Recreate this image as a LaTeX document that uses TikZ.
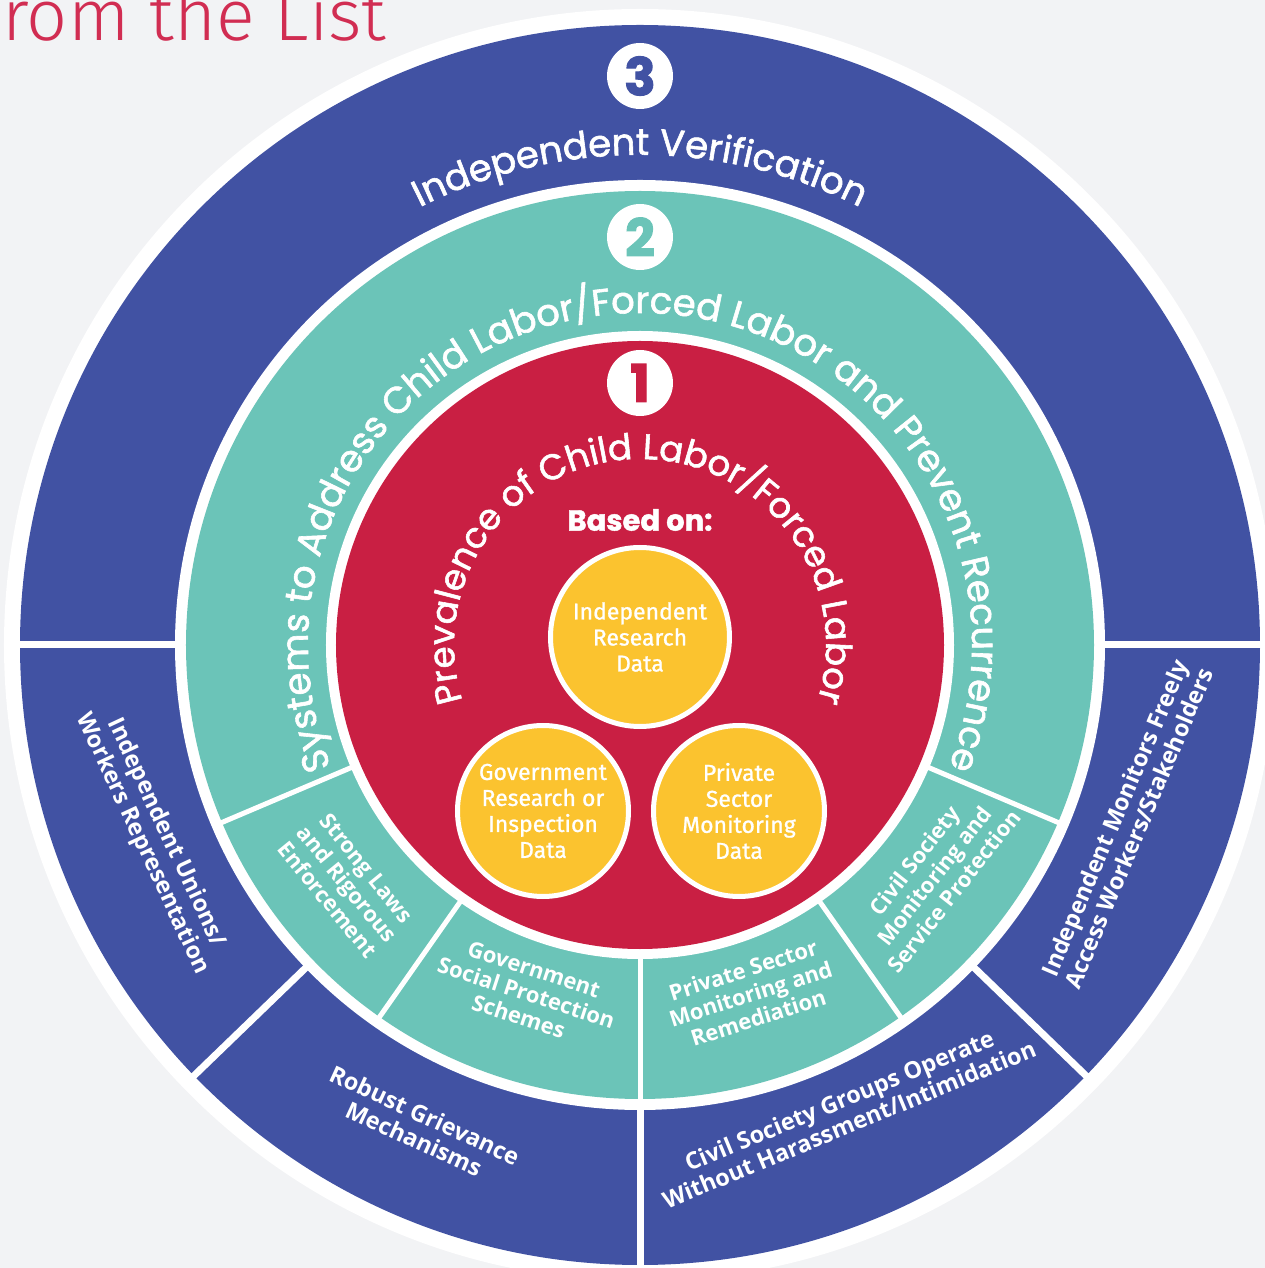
\documentclass[tikz,border=0pt]{standalone}
\usepackage{fontspec}
\usepackage{xcolor}
\usepackage{tikz}
\usetikzlibrary{decorations.text}
\newfontfamily\ringfont{Poppins}[FakeBold=1.6]
\newfontfamily\numfont{Poppins}[FakeBold=2]
\newfontfamily\labelfont{Open Sans}
\newfontfamily\datafont{Fira Sans}[FakeBold=1]
\newfontfamily\titlefont{Fira Sans Light}
\definecolor{ringblue}{HTML}{4152A3}
\definecolor{ringteal}{HTML}{6BC4B8}
\definecolor{ringred}{HTML}{C91F43}
\definecolor{datayellow}{HTML}{FBC32F}
\definecolor{pagebg}{HTML}{F2F3F5}
\definecolor{titlered}{HTML}{D12D52}
\begin{document}
\begin{tikzpicture}[x=1pt,y=1pt]
\tikzstyle{every node}+=[inner sep=0pt]
\tikzstyle{numdisc}=[circle,fill=white,minimum size=66pt,font=\numfont\bfseries\fontsize{52}{52}\selectfont]
\tikzstyle{datadisc}=[circle,fill=datayellow,draw=white,line width=5pt,text=white,align=center,font=\datafont\fontsize{23}{26}\selectfont]
\tikzstyle{seglabel}=[text=white,align=center,font=\labelfont\bfseries\fontsize{22}{25}\selectfont]
\tikzstyle{outlabel}=[text=white,align=center,font=\labelfont\bfseries\fontsize{23.5}{26}\selectfont]
\tikzstyle{gap}=[white,line width=7pt]
\tikzstyle{thingap}=[white,line width=5pt]
\fill [pagebg] (-640,-623) rectangle (625,645);
\useasboundingbox (-640,-623) rectangle (625,645);
\node [anchor=base west,text=titlered,font=\titlefont\fontsize{72}{72}\selectfont] (title) at (-638,604) {rom the List};
\fill [white] (0,0) circle (636);
\fill [ringblue] (0,0) circle (620);
\fill [white] (0,0) circle (465);
\fill [ringteal] (0,0) circle (454);
\fill [white] (0,0) circle (314);
\fill [ringred] (0,0) circle (304);
\draw [gap] (180:460) -- (180:630);
\draw [gap] (0:460) -- (0:630);
\draw [gap] (224:460) -- (224:630);
\draw [gap] (270:460) -- (270:630);
\draw [gap] (316:460) -- (316:630);
\draw [thingap] (203:310) -- (203:460);
\draw [thingap] (235:310) -- (235:460);
\draw [thingap] (270:310) -- (270:460);
\draw [thingap] (305:310) -- (305:460);
\draw [thingap] (337:310) -- (337:460);
\node [numdisc,text=ringblue] (n3) at (90:569) {3};
\node [numdisc,text=ringteal] (n2) at (90:408) {2};
\node [numdisc,text=ringred] (n1) at (90:262) {1};
\path [decorate,decoration={text along path,text align=center,text color=white,
  text={|\ringfont\fontsize{37}{37}\selectfont|Independent Verification}}] (160:490) arc (160:20:490);
\path [decorate,decoration={text along path,text align=center,text color=white,
  text={|\ringfont\fontsize{37}{37}\selectfont|Systems to Address Child Labor/Forced Labor and Prevent Recurrence}}] (225:332) arc (225:-45:332);
\path [decorate,decoration={text along path,text align=center,text color=white,
  text={|\ringfont\fontsize{35.5}{35.5}\selectfont|Prevalence of Child Labor/Forced Labor}}] (225:186) arc (225:-45:186);
\node [text=white,font=\ringfont\bfseries\fontsize{29}{29}\selectfont] (based) at (0,125) {Based on:};
\node [datadisc,minimum size=179pt] (d1) at (0,8) {Independent\\Research\\Data};
\node [datadisc,minimum size=171pt] (d2) at (-97,-166) {Government\\Research or\\Inspection\\Data};
\node [datadisc,minimum size=171pt] (d3) at (99,-166) {Private\\Sector\\Monitoring\\Data};
\node [seglabel,rotate=-50.8] (s1) at (219.2:378) {Strong Laws\\and Rigorous\\Enforcement};
\node [seglabel,rotate=-18.1] (s2) at (251.9:366) {Government\\Social Protection\\Schemes};
\node [seglabel,rotate=17.6] (s3) at (287.6:366) {Private Sector\\Monitoring and\\Remediation};
\node [seglabel,rotate=51.9] (s4) at (321.9:374) {Civil Society\\Monitoring and\\Service Protection};
\node [outlabel,rotate=-65] (b1) at (201.7:523) {Independent Unions/\\Workers Representation};
\node [outlabel,rotate=-24.6] (b2) at (245.4:530) {Robust Grievance\\Mechanisms};
\node [outlabel,rotate=22.5] (b3) at (293.6:510) {Civil Society Groups Operate\\Without Harassment/Intimidation};
\node [outlabel,rotate=67] (b4) at (339.9:518) {Independent Monitors Freely\\Access Workers/Stakeholders};
\end{tikzpicture}
\end{document}
